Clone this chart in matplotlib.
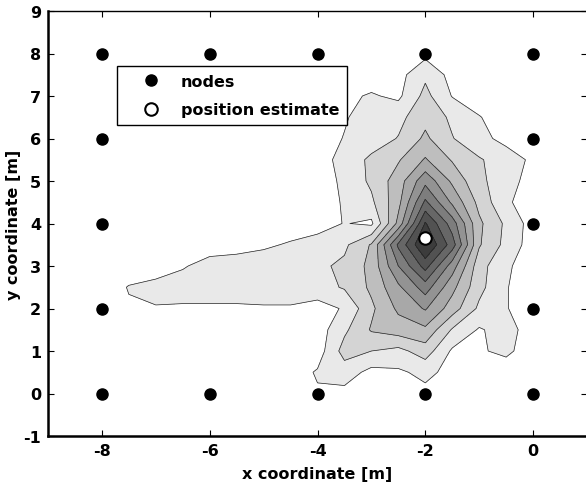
import numpy as np
import matplotlib
matplotlib.use('Agg')
import matplotlib.pyplot as plt

plt.rcParams['font.family'] = ['DejaVu Sans']
plt.rcParams['font.weight'] = 'bold'
plt.rcParams['axes.unicode_minus'] = False

# grid of the density map (m) at 0.5 m spacing
x_grid = np.arange(-9, 1.01, 0.5)
y_grid = np.arange(9, -1.01, -0.5)  # rows from top to bottom

# contour level per grid point (0 = outside, 9 = darkest), one row per y value
level_rows = [
    [0]*21,  # y = 9
    [0]*21,  # y = 8.5
    [0, 0, 0, 0, 0, 0, 0, 0, 0, 0, 0, 0, 0, 0, 0.2, 0, 0, 0, 0, 0, 0],  # y = 8
    [0, 0, 0, 0, 0, 0, 0, 0, 0, 0, 0, 0, 0, 0.15, 1.3, 0.15, 0, 0, 0, 0, 0],  # 7.5
    [0, 0, 0, 0, 0, 0, 0, 0, 0, 0, 0, 0.3, 0.6, 0.3, 1.8, 0.45, 0, 0, 0, 0, 0],  # 7
    [0, 0, 0, 0, 0, 0, 0, 0, 0, 0, 0, 0.4, 1.0, 1.2, 2.2, 1.3, 0.55, 0, 0, 0, 0],  # 6.5
    [0, 0, 0, 0, 0, 0, 0, 0, 0, 0, 0, 0.55, 1.0, 1.55, 2.7, 1.55, 0.8, 0.2, 0, 0, 0],  # 6
    [0, 0, 0, 0, 0, 0, 0, 0, 0, 0, 0, 0.9, 1.7, 2.4, 3.6, 2.4, 1.6, 1.0, 0.3, 0, 0],  # 5.5
    [0, 0, 0, 0, 0, 0, 0, 0, 0, 0, 0, 0.7, 1.7, 3.0, 5.2, 3.3, 1.7, 1.0, 0, 0, 0],  # 5
    [0, 0, 0, 0, 0, 0, 0, 0, 0, 0, 0, 0.6, 1.3, 3.2, 6.7, 4.3, 2.2, 0.65, 0, 0, 0],  # 4.5
    [0, 0, 0, 0, 0, 0, 0, 0, 0, 0, 0, 0.55, 0.3, 3.8, 8.6, 6.0, 2.7, 1.3, 0.05, 0, 0],  # 4
    [0, 0, 0, 0, 0, 0, 0, 0.1, 0.35, 0.6, 1.0, 1.3, 2.6, 6.7, 9.6, 7.0, 2.6, 1.2, 0, 0, 0],  # 3.5
    [0, 0, 0, 0, 0.1, 0.4, 0.9, 1.0, 1.0, 1.0, 1.3, 1.7, 2.8, 5.5, 7.9, 5.0, 1.9, 0.65, 0, 0, 0],  # 3
    [0, 0, 0, 0.55, 0.75, 1.0, 1.0, 1.0, 1.0, 1.0, 1.1, 1.6, 2.7, 4.3, 6.0, 3.8, 1.8, 0.55, 0, 0, 0],  # 2.5
    [0, 0, 0, 0.4, 0.45, 0.35, 0.35, 0.35, 0.4, 0.4, 0.1, 0.6, 2.3, 3.7, 4.6, 3.0, 1.3, 0.55, 0, 0, 0],  # 2
    [0, 0, 0, 0, 0, 0, 0, 0, 0, 0, 0, 1.3, 2.6, 3.0, 3.3, 1.4, 0.4, 0.9, 0, 0, 0],  # 1.5
    [0, 0, 0, 0, 0, 0, 0, 0, 0, 0, 0, 1.9, 1.5, 1.2, 2.0, 0.35, 0.4, 0.7, 0, 0, 0],  # 1
    [0, 0, 0, 0, 0, 0, 0, 0, 0, 0, 0.6, 1.0, 0.2, 0.35, 0.75, 0.2, 0, 0, 0, 0, 0],  # 0.5
    [0, 0, 0, 0, 0, 0, 0, 0, 0, 0, 0.4, 0.2, 0, 0, 0.25, 0, 0, 0, 0, 0, 0],  # 0
    [0]*21,  # y = -0.5
    [0]*21,  # y = -1
]

# anchor nodes and the position estimate
node_x = [-8, -6, -4, -2, 0, -8, -6, -4, -2, 0, -8, -8, -8, 0, 0, 0]
node_y = [8, 8, 8, 8, 8, 0, 0, 0, 0, 0, 2, 4, 6, 2, 4, 6]
est_x = [-2.0]
est_y = [3.65]

levels = [0.5, 1.5, 2.5, 3.5, 4.5, 5.5, 6.5, 7.5, 8.5, 20]
grays = [str(round(1 - 0.085 * k, 3)) for k in range(1, 10)]

Z = np.array(level_rows)
X, Y = np.meshgrid(x_grid, y_grid)

fig = plt.figure(figsize=(5.86, 4.89), dpi=100)
ax = fig.add_axes([48/586, 52/489, 539/586, 425/489])

ax.contourf(X, Y, Z, levels=levels, colors=grays)
ax.contour(X, Y, Z, levels=levels[:-1], colors='#222222', linewidths=0.5)

ax.plot(node_x, node_y, 'o', color='black', markersize=8, linestyle='none', label='nodes', zorder=5)
ax.plot(est_x, est_y, 'o', markerfacecolor='white', markeredgecolor='black',
        markeredgewidth=1.5, markersize=9, linestyle='none', label='position estimate', zorder=6)

ax.set_xlim(-9, 1)
ax.set_ylim(-1, 9)
ax.set_xticks([-8, -6, -4, -2, 0])
ax.set_yticks(range(-1, 10))
ax.tick_params(direction='in', top=True, right=True, length=4, width=0.8, labelsize=11.5, pad=5)
for s in ['left', 'bottom']:
    ax.spines[s].set_linewidth(1.8)
ax.spines['top'].set_linewidth(1.0)
ax.spines['right'].set_visible(False)

ax.set_xlabel('x coordinate [m]', fontsize=11.5, fontweight='bold', labelpad=6)
ax.set_ylabel('y coordinate [m]', fontsize=11.5, fontweight='bold', labelpad=2)

leg = ax.legend(loc='upper left', bbox_to_anchor=(0.128, 0.871), fancybox=False, framealpha=1,
                edgecolor='black', borderaxespad=0, fontsize=11.5, handlelength=3.3,
                handletextpad=0.2, borderpad=0.5, labelspacing=0.85)
leg.get_frame().set_linewidth(1.0)

fig.savefig('out.png', dpi=100)
